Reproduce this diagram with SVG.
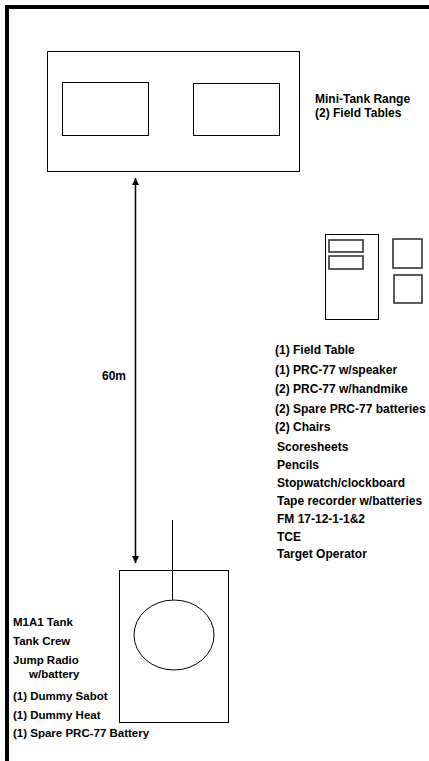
<svg xmlns="http://www.w3.org/2000/svg" width="429" height="761" viewBox="0 0 429 761">
<defs>
<style>
.t{font-family:"Liberation Sans",Arial,sans-serif;font-weight:bold;font-size:12px;fill:#000}
.s{font-size:11.5px}
.box{fill:none;stroke:#000;stroke-width:1}
.sm{fill:none;stroke:#333;stroke-width:1.6}
</style>
<marker id="ah" viewBox="0 0 10 10" refX="10" refY="5" markerWidth="7" markerHeight="7" markerUnits="userSpaceOnUse" orient="auto-start-reverse">
<path d="M0,0 L10,5 L0,10 z" fill="#000"/>
</marker>
</defs>
<rect width="429" height="761" fill="#fff"/>
<path d="M7,761 V7 H429" fill="none" stroke="#000" stroke-width="4"/>
<g id="mini-tank-range">
<rect class="box" x="47.5" y="51.5" width="252" height="120"/>
<rect class="box" x="62.5" y="82.5" width="86" height="53"/>
<rect class="box" x="193.5" y="83.5" width="86" height="52"/>
<text class="t" x="315" y="103">Mini-Tank Range</text>
<text class="t" x="315" y="117">(2) Field Tables</text>
</g>
<g id="control-point">
<rect class="box" x="325.5" y="234.5" width="53" height="85"/>
<rect class="sm" x="329" y="240" width="34" height="12"/>
<rect class="sm" x="329" y="256" width="34" height="13"/>
<rect class="sm" x="393" y="239" width="29" height="29"/>
<rect class="sm" x="394" y="275" width="28" height="28"/>
</g>
<g id="equipment-list">
<text class="t" x="275" y="354">(1) Field Table</text>
<text class="t" x="275" y="373.5">(1) PRC-77 w/speaker</text>
<text class="t" x="275" y="393">(2) PRC-77 w/handmike</text>
<text class="t" x="275" y="412.5">(2) Spare PRC-77 batteries</text>
<text class="t" x="275" y="431">(2) Chairs</text>
<text class="t" x="277" y="451">Scoresheets</text>
<text class="t" x="277" y="469">Pencils</text>
<text class="t" x="277" y="487">Stopwatch/clockboard</text>
<text class="t" x="277" y="505">Tape recorder w/batteries</text>
<text class="t" x="277" y="523">FM 17-12-1-1&amp;2</text>
<text class="t" x="277" y="541">TCE</text>
<text class="t" x="277" y="558">Target Operator</text>
</g>
<g id="tank">
<rect class="box" x="119.5" y="570.5" width="109" height="152"/>
<ellipse class="box" cx="174" cy="635" rx="40" ry="35"/>
<line class="box" x1="172.5" y1="520" x2="172.5" y2="600"/>
<text class="t s" x="13" y="626">M1A1 Tank</text>
<text class="t s" x="13" y="645">Tank Crew</text>
<text class="t s" x="13" y="664">Jump Radio</text>
<text class="t s" x="29" y="678">w/battery</text>
<text class="t s" x="13" y="700">(1) Dummy Sabot</text>
<text class="t s" x="13" y="719">(1) Dummy Heat</text>
<text class="t s" x="13" y="737">(1) Spare PRC-77 Battery</text>
</g>
<g id="connectors">
<line x1="135.5" y1="178" x2="135.5" y2="563" stroke="#000" stroke-width="1.5" marker-start="url(#ah)" marker-end="url(#ah)"/>
<text class="t" x="102" y="380">60m</text>
</g>
</svg>
